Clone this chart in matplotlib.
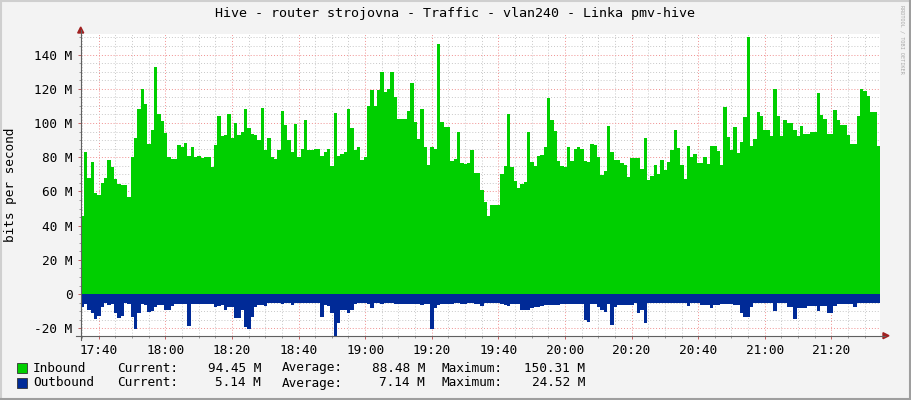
import numpy as np
import matplotlib
matplotlib.use("Agg")
import matplotlib.pyplot as plt
from matplotlib.lines import Line2D
from matplotlib.patches import Polygon, Rectangle
from matplotlib.ticker import MultipleLocator, FuncFormatter

# one sample per minute, Mbit/s, starting 17:35
inbound = [
    45.5, 83, 68, 77, 59, 58, 65, 68, 78.5, 74, 67, 64.5, 63.6, 64, 57, 80, 91, 108, 120, 111,
    88, 96, 133, 105, 101, 94, 80, 79, 79, 87,
    86, 88.5, 80.5, 86, 80, 81, 79.5, 80, 80, 74, 87, 104, 92.5, 92.7, 105, 91, 100, 92.7, 95, 108,
    97, 93.3, 93, 90, 108.7, 84, 91, 80, 79, 84,
    107, 99, 90, 83, 99.7, 80, 84.8, 102, 84, 84, 85, 85, 81, 83, 84.6, 74.7, 106, 80.5, 82, 83,
    108, 97, 84, 86, 78.5, 80, 109.7, 119, 109.7, 119,
    130, 118, 119.8, 130, 115, 102.5, 102.5, 102.5, 107, 123.5, 100.5, 90.8, 108, 86, 75.4, 86, 85, 146, 100.5, 97.6,
    97.6, 78, 79, 94.7, 76.6, 76, 76.6, 84, 71, 71,
    61, 54, 45.7, 52, 52, 52, 70, 74.7, 105, 74, 66, 62, 64.5, 65.3, 95, 77, 74.9, 81, 81.5, 86,
    114.7, 101.9, 95.3, 77.6, 74.9, 74.3, 86, 77.8, 84.6, 86,
    84.8, 77.6, 77, 87.9, 87, 80, 69.4, 72, 98, 82.8, 78.5, 78.5, 76.8, 75.6, 68.4, 79.5, 79.5, 79.5, 73, 91,
    66.5, 69, 75.2, 70, 78.2, 72.7, 77, 84, 95.7, 85.2,
    75.2, 67, 86.3, 80, 81.7, 76.6, 76.6, 80, 76.2, 86.3, 86.3, 83.6, 75.2, 109.3, 91.8, 84, 97.6, 82.6, 88.9, 103.4,
    150.3, 86.3, 90.4, 106.4, 103.8, 95.7, 95.7, 92.2, 119.8, 104.2,
    92.2, 101.5, 100, 100, 95.7, 92.2, 98.2, 93.3, 93.3, 95, 95, 117.8, 104.4, 102.5, 93.3, 93.3, 107.7, 101.5, 98.6, 98.6,
    92.7, 88, 87.9, 103.8, 119.8, 118.4, 115.5, 106.2, 106.2, 86.3,
]
outbound = [
    7.4, 6, 9, 10.9, 14.8, 12.5, 7.4, 5, 6.4, 5.8, 11, 14.2, 13, 5.4, 5.8, 13.6, 20.4, 11, 5.8, 6.4,
    10.3, 10, 7.8, 6.4, 6.2, 9, 9, 7, 5.8, 5.8,
    5.5, 5.5, 18.7, 5.8, 6, 6, 6, 5.8, 5.8, 5.8, 7.4, 7, 6.5, 9, 7.4, 7.4, 14.2, 14.2, 9.3, 19.4,
    20.6, 13.2, 7.4, 6.4, 6.4, 7, 5.4, 5.4, 5.4, 5.4,
    5.5, 5, 5, 6.4, 5.4, 5.4, 5, 5, 5, 5, 5, 5, 13.2, 6.4, 7, 10.9, 24.5, 16.7, 9.3, 9,
    10.9, 9.3, 6, 5.4, 5.4, 5.4, 5.8, 8, 5.4, 5,
    5.8, 5.4, 5.4, 5.4, 5.8, 6, 6, 5.8, 5.8, 6, 5.8, 5.8, 6.4, 5.8, 5.8, 20.6, 8.4, 6.4, 6, 5.8,
    5.8, 6, 5.4, 5.4, 5.8, 5.8, 5.4, 5.4, 5.8, 6,
    7, 5.4, 5.4, 5.4, 5.4, 5.4, 5.8, 6.4, 7, 6, 6, 6, 9, 9, 9.3, 8.4, 7.4, 7.4, 7, 6.4,
    6.4, 6.4, 6.4, 6.4, 6, 6, 6, 6, 6, 6,
    5.8, 15.2, 16.1, 5.8, 5.8, 7.8, 9.3, 10.3, 5.8, 18, 7.4, 6.4, 6.4, 6.4, 6.4, 6.4, 5.4, 11.3, 9.3, 17,
    5.4, 5.4, 5.2, 5.2, 5.4, 5.2, 5.2, 5.2, 5.2, 5.2,
    5.4, 5.4, 7, 5.4, 5.4, 5.4, 6.4, 6.4, 6.4, 8.4, 6.4, 6.4, 5.8, 5.8, 5.8, 5.8, 6.4, 6.4, 10.9, 13.2,
    13.2, 7.4, 5.4, 5.4, 5.4, 5.4, 5.4, 5.4, 9.7, 5.4,
    5.4, 5.4, 7.4, 7.4, 14.8, 8.4, 8.4, 8.4, 7, 7, 7, 9.7, 7, 7, 10.9, 10.9, 7, 5.8, 5.8, 5.8,
    5.8, 5.8, 7.8, 5.4, 5.4, 5.4, 5.4, 5.4, 5.4, 5.4,
]
start_min = 17 * 60 + 34.6
title = "Hive - router strojovna - Traffic - vlan240 - Linka pmv-hive"
legend_rows = [
    ("Inbound", "#00CF00", "94.45 M", "88.48 M", "150.31 M"),
    ("Outbound", "#002A97", "5.14 M", "7.14 M", "24.52 M"),
]

W, H = 911, 400
MONO = "DejaVu Sans Mono"
FS = 9.2


def fx(px):
    return px / W


def fy(py):
    return 1 - py / H


fig = plt.figure(figsize=(W / 100, H / 100), dpi=100, facecolor="#F3F3F3")
left, right, top, bottom = 80.7, 880, 34, 335.7
ax = fig.add_axes([fx(left), fy(bottom), fx(right - left), (bottom - top) / H])
ax.set_facecolor("white")

edges_in = start_min + np.arange(len(inbound) + 1)
edges_out = start_min + np.arange(len(outbound) + 1)
ax.stairs(inbound, edges_in, fill=True, color="#00CF00", baseline=0, zorder=2)
ax.stairs(-np.array(outbound), edges_out, fill=True, color="#002A97", baseline=0, zorder=2)

ax.set_xlim(start_min, start_min + 240)
ax.set_ylim(-24.3, 152)

ax.xaxis.set_major_locator(MultipleLocator(20))
ax.xaxis.set_minor_locator(MultipleLocator(5))
ax.yaxis.set_major_locator(MultipleLocator(20))
ax.yaxis.set_minor_locator(MultipleLocator(5))
ax.xaxis.set_major_formatter(FuncFormatter(lambda v, p: "%d:%02d" % (int(v) // 60, int(v) % 60)))
ax.yaxis.set_major_formatter(FuncFormatter(lambda v, p: "0" if abs(v) < 1e-6 else "%d M" % v))

ax.set_axisbelow(True)
ax.grid(which="minor", color="#C8C8C8", linestyle=(0, (1, 2)), linewidth=0.7)
ax.grid(which="major", color="#F09090", linestyle=(0, (1, 2)), linewidth=0.7)

for s in ax.spines.values():
    s.set_visible(False)

ax.tick_params(which="major", length=2.5, width=0.7, color="#C06060", direction="out", pad=3.5,
               labelsize=FS, labelcolor="black")
ax.tick_params(which="minor", length=1.5, width=0.7, color="#999999", direction="out")
for lab in ax.get_xticklabels() + ax.get_yticklabels():
    lab.set_family(MONO)

# axis lines with rrdtool style arrows
axc = "#606060"
arc = "#A02020"
fig.add_artist(Line2D([fx(left), fx(left)], [fy(340), fy(30)], color=axc, lw=0.8))
fig.add_artist(Line2D([fx(76), fx(885)], [fy(bottom), fy(bottom)], color=axc, lw=0.8))
fig.add_artist(Polygon([[fx(left - 3), fy(33)], [fx(left + 3), fy(33)], [fx(left), fy(27)]],
                       closed=True, color=arc, transform=fig.transFigure))
fig.add_artist(Polygon([[fx(883), fy(bottom - 3)], [fx(883), fy(bottom + 3)], [fx(889), fy(bottom)]],
                       closed=True, color=arc, transform=fig.transFigure))

# titles
fig.text(fx(455), fy(14), title, ha="center", va="center", family=MONO, fontsize=9.6)
fig.text(fx(11), fy(185), "bits per second", rotation=90, ha="center", va="center",
         family=MONO, fontsize=FS)
fig.text(fx(902), fy(5), "RRDTOOL / TOBI OETIKER", rotation=270, ha="center", va="top",
         family=MONO, fontsize=3.8, color="#A8A8A8")

# legend
for i, (name, col, cur, avg, mx) in enumerate(legend_rows):
    yc = 368 + i * 15
    fig.add_artist(Rectangle((fx(17), fy(yc + 5)), 10 / W, 10 / H, facecolor=col,
                             edgecolor="#333333", lw=0.6, transform=fig.transFigure))
    fig.text(fx(33), fy(yc), name, ha="left", va="center", family=MONO, fontsize=FS)
    fig.text(fx(117), fy(yc), "Current:", ha="left", va="center", family=MONO, fontsize=FS)
    fig.text(fx(261), fy(yc), cur, ha="right", va="center", family=MONO, fontsize=FS)
    fig.text(fx(282), fy(yc), "Average:", ha="left", va="center", family=MONO, fontsize=FS)
    fig.text(fx(425), fy(yc), avg, ha="right", va="center", family=MONO, fontsize=FS)
    fig.text(fx(441), fy(yc), "Maximum:", ha="left", va="center", family=MONO, fontsize=FS)
    fig.text(fx(585), fy(yc), mx, ha="right", va="center", family=MONO, fontsize=FS)

# 3d-ish frame
fig.add_artist(Line2D([0, 1], [fy(1), fy(1)], color="#CFCFCF", lw=1.5))
fig.add_artist(Line2D([fx(1), fx(1)], [0, 1], color="#CFCFCF", lw=1.5))
fig.add_artist(Line2D([0, 1], [fy(H - 1), fy(H - 1)], color="#9E9E9E", lw=1.5))
fig.add_artist(Line2D([fx(W - 1), fx(W - 1)], [0, 1], color="#9E9E9E", lw=1.5))

fig.savefig("out.png", dpi=100, facecolor=fig.get_facecolor())
